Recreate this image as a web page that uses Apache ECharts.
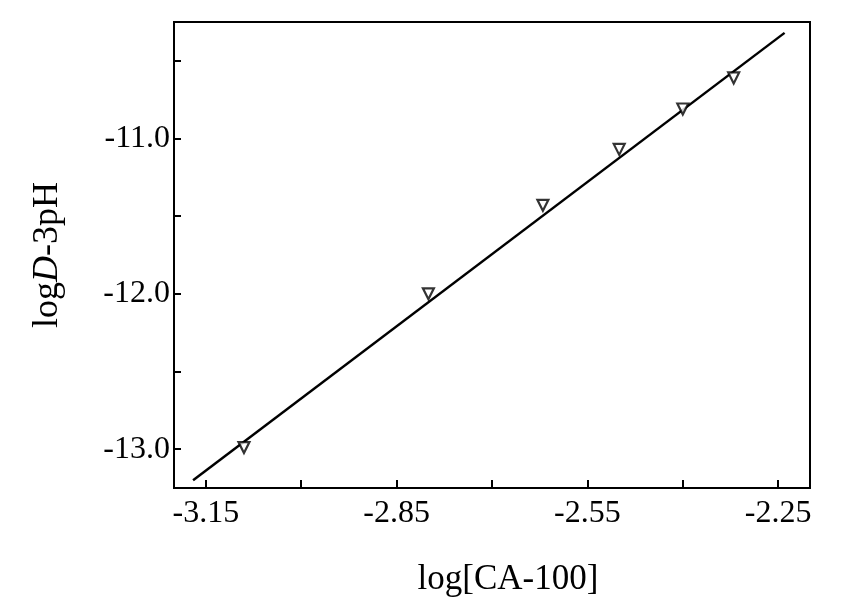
<!DOCTYPE html>
<html>
<head>
<meta charset="utf-8">
<script src="https://cdn.jsdelivr.net/npm/echarts@6/dist/echarts.min.js"></script>
<style>
html,body{margin:0;padding:0;background:#fff;}
#main{width:853px;height:606px;}
</style>
</head>
<body>
<div id="main"></div>
<script>
// Data
var pointX = [-3.09, -2.80, -2.62, -2.50, -2.40, -2.32];
var pointY = [-12.99, -12.00, -11.43, -11.07, -10.81, -10.61];
var fitX = [-3.17, -2.24];
var fitY = [-13.20, -10.32];
var xTickValues = [-3.15, -3.00, -2.85, -2.70, -2.55, -2.40, -2.25];
var xLabelValues = [-3.15, -2.85, -2.55, -2.25];
var yTickValues = [-13.0, -12.5, -12.0, -11.5, -11.0, -10.5];
var yLabelValues = [-13.0, -12.0, -11.0];

var points = pointX.map(function (x, i) { return [x, pointY[i]]; });
var fitLine = fitX.map(function (x, i) { return [x, fitY[i]]; });

var font = 'Liberation Serif';
var chart = echarts.init(document.getElementById('main'));
chart.setOption({
  backgroundColor: '#fff',
  animation: false,
  grid: {
    left: 174, right: 43, top: 22, bottom: 118,
    show: true, borderColor: '#000', borderWidth: 2, backgroundColor: 'transparent'
  },
  xAxis: {
    type: 'value', min: -3.20, max: -2.20,
    name: 'log[CA-100]', nameLocation: 'middle', nameGap: 74,
    nameTextStyle: { fontFamily: font, fontSize: 35, color: '#000', padding: [0, 0, 0, 32] },
    axisLine: { show: true, lineStyle: { color: '#000', width: 2 } },
    axisTick: { show: true, inside: true, length: 8, customValues: xTickValues, lineStyle: { color: '#000', width: 2 } },
    axisLabel: { customValues: xLabelValues, fontFamily: font, fontSize: 32, color: '#000', margin: 10,
      formatter: function (v) { return v.toFixed(2); } },
    splitLine: { show: false }
  },
  yAxis: {
    type: 'value', min: -13.25, max: -10.25,
    name: 'log{i|D}-3pH', nameLocation: 'middle', nameGap: 108,
    nameTextStyle: { fontFamily: font, fontSize: 36, color: '#000',
      rich: { i: { fontFamily: font, fontSize: 36, fontStyle: 'italic', color: '#000' } } },
    axisLine: { show: true, lineStyle: { color: '#000', width: 2 } },
    axisTick: { show: true, inside: true, length: 7, customValues: yTickValues, lineStyle: { color: '#000', width: 2 } },
    axisLabel: { customValues: yLabelValues, fontFamily: font, fontSize: 32, color: '#000', margin: 4,
      formatter: function (v) { return v.toFixed(1); } },
    splitLine: { show: false }
  },
  series: [
    {
      type: 'line', data: fitLine, showSymbol: false, symbol: 'none',
      lineStyle: { color: '#000', width: 2.5 }, z: 2
    },
    {
      type: 'scatter', data: points, symbol: 'triangle', symbolSize: 11, symbolRotate: 180,
      itemStyle: { color: '#fff', borderColor: '#000', borderWidth: 2.2 }, z: 3
    }
  ]
});
</script>
</body>
</html>
